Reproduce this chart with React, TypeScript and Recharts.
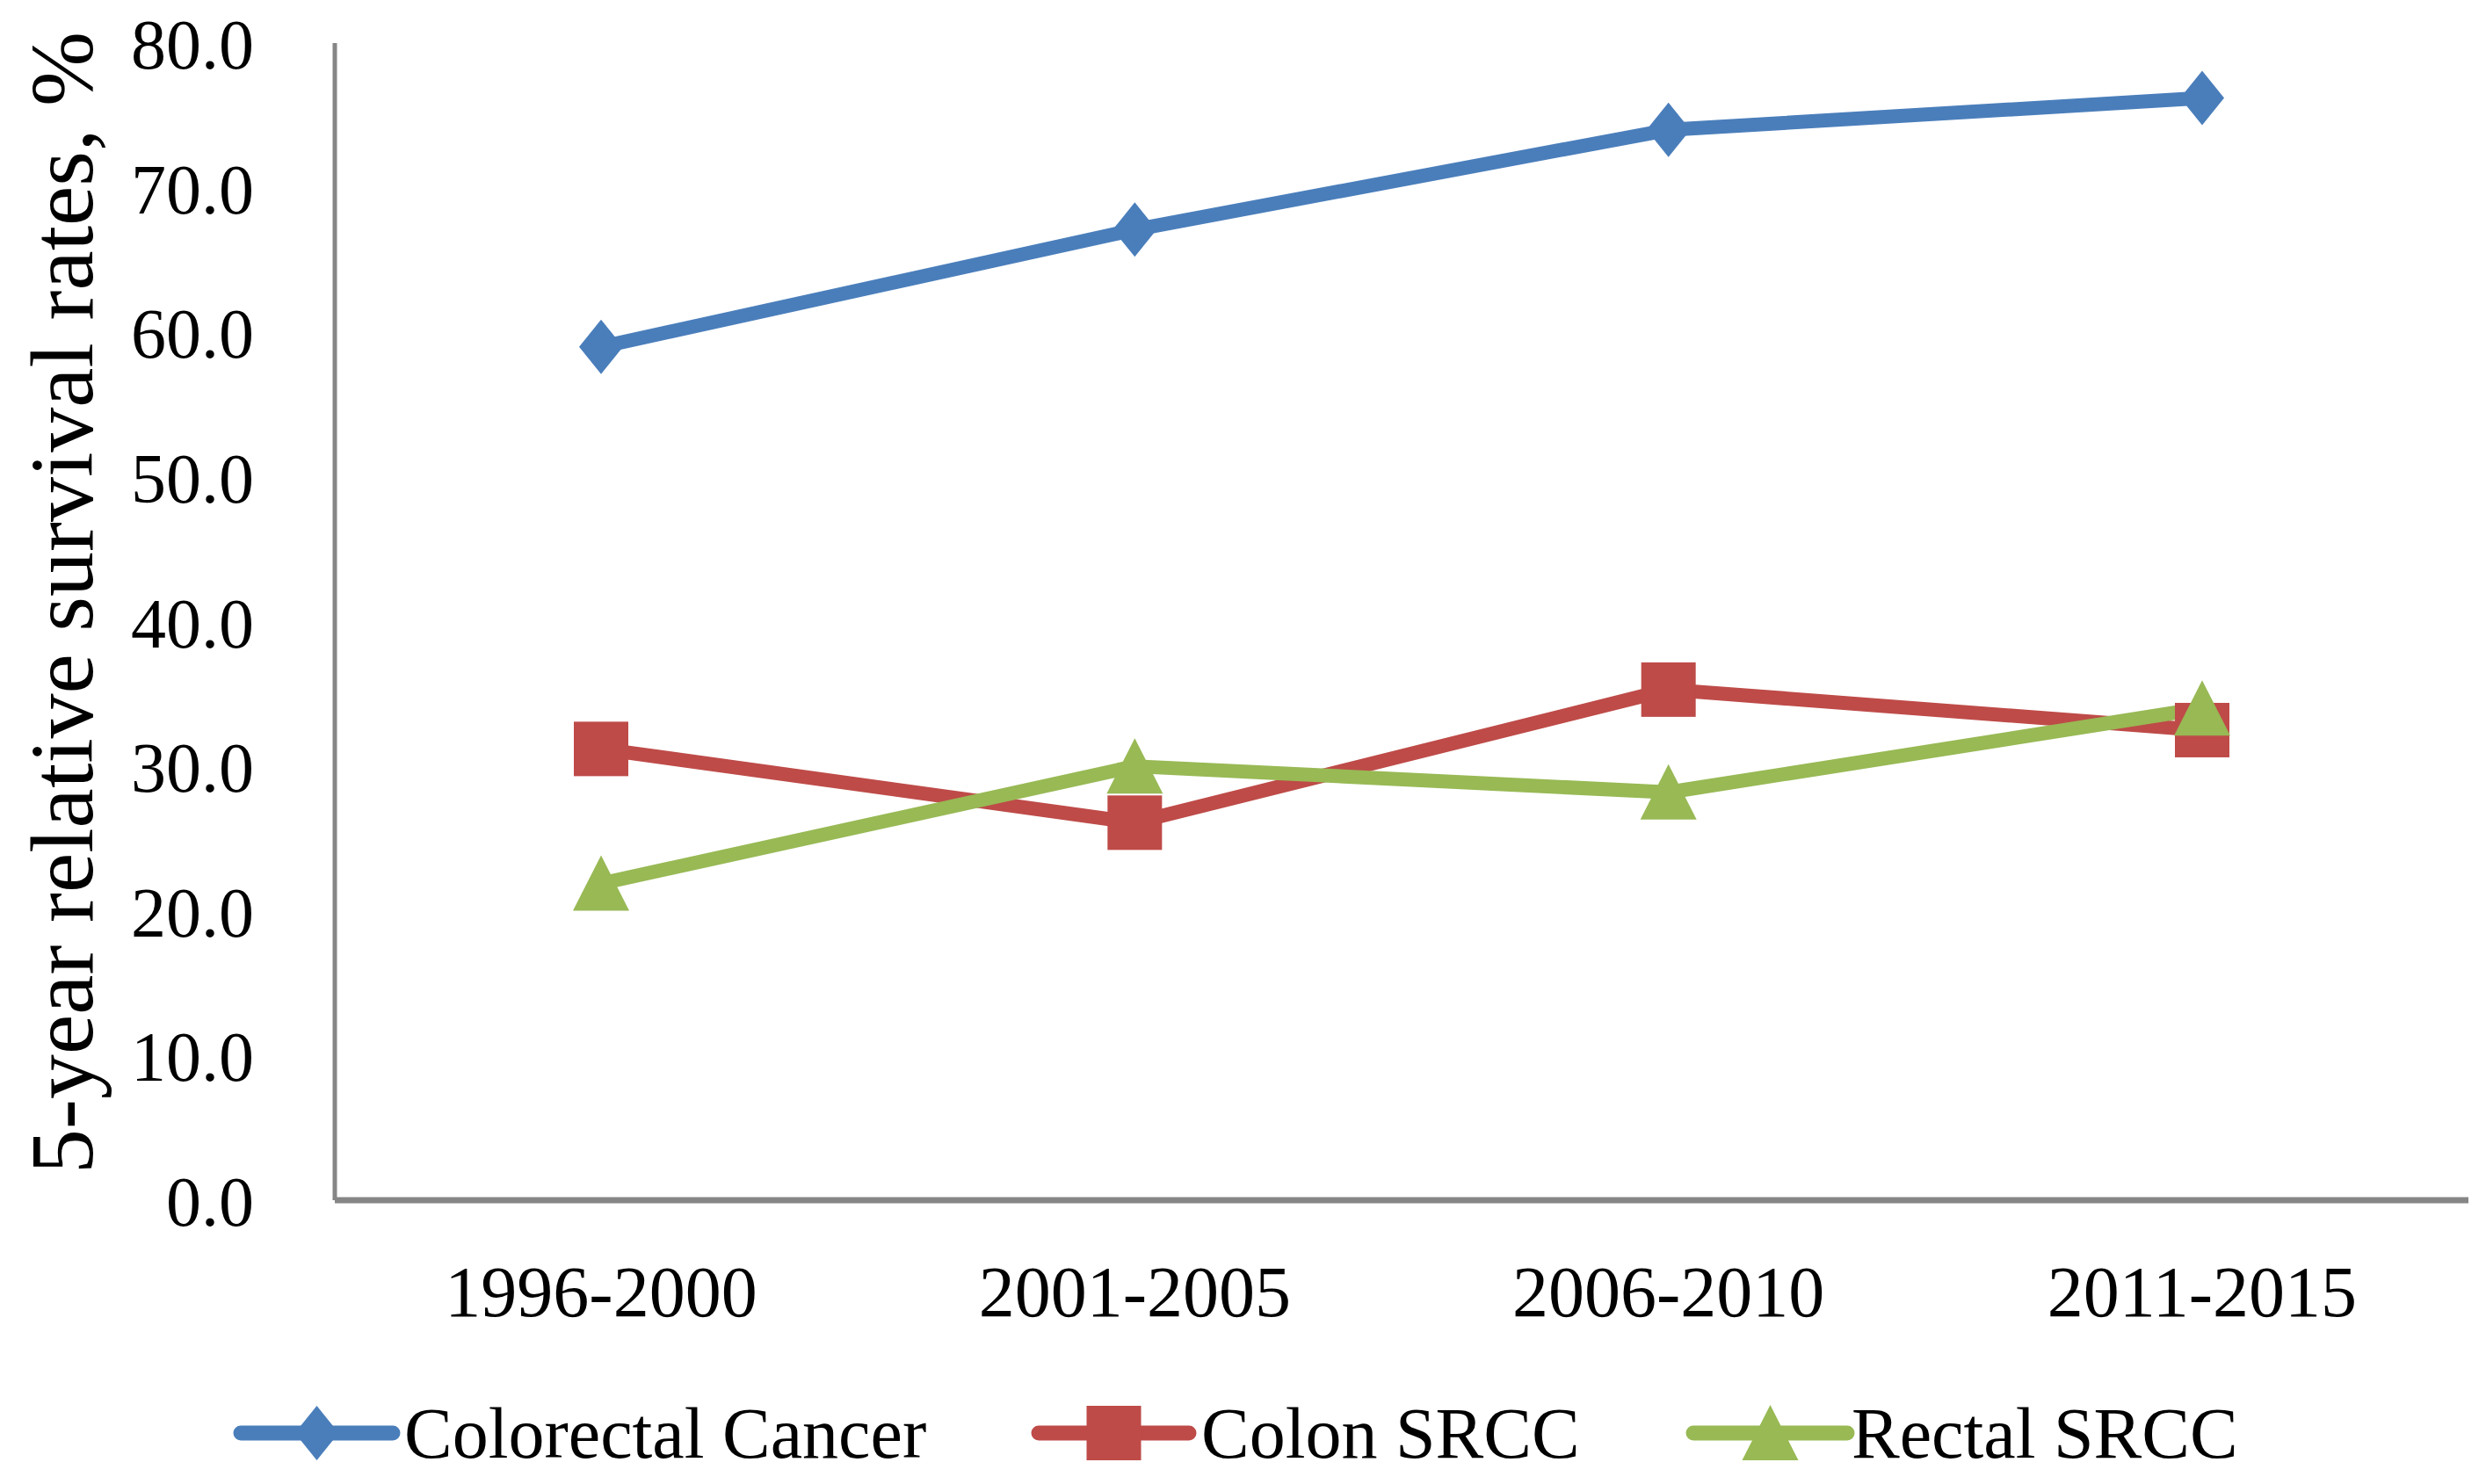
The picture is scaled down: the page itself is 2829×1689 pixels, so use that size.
import React from "react"
import { LineChart, Line, XAxis, YAxis, Legend } from "recharts"

const periods = ["1996-2000", "2001-2005", "2006-2010", "2011-2015"]
const colorectalCancer = [59.0, 67.1, 74.0, 76.2]
const colonSrcc = [31.2, 26.1, 35.3, 32.5]
const rectalSrcc = [21.9, 30.0, 28.2, 34.0]
const yTicks = [0, 10, 20, 30, 40, 50, 60, 70, 80]

const data = periods.map((p, i) => ({
  period: p,
  colorectal: colorectalCancer[i],
  colon: colonSrcc[i],
  rectal: rectalSrcc[i],
}))

const FONT = "'Liberation Serif', 'Times New Roman', serif"
const BLUE = "#4A7EBB"
const RED = "#BE4B48"
const GREEN = "#98B954"
const AXIS = "#868686"

const W = 2813
const H = 1673

function Diamond({ cx, cy, color }: any) {
  return <polygon points={`${cx},${cy - 31} ${cx + 25},${cy} ${cx},${cy + 31} ${cx - 25},${cy}`} fill={color} />
}
function Square({ cx, cy, color }: any) {
  return <rect x={cx - 31} y={cy - 31} width={62} height={62} fill={color} />
}
function Triangle({ cx, cy, color }: any) {
  return <polygon points={`${cx},${cy - 32} ${cx + 32},${cy + 31} ${cx - 32},${cy + 31}`} fill={color} />
}

const marker = (Shape: any, color: string) => (props: any) =>
  <Shape key={`${color}-${props.index}`} cx={props.cx} cy={props.cy} color={color} />

function XTick({ x, y, payload }: any) {
  return (
    <text x={x} y={y + 104} textAnchor="middle" dominantBaseline="central" fontFamily={FONT} fontSize={82} fill="#000">
      {payload.value}
    </text>
  )
}

function YTick({ x, y, payload }: any) {
  return (
    <text x={x} y={y + 2} textAnchor="end" dominantBaseline="central" fontFamily={FONT} fontSize={80} fill="#000">
      {Number(payload.value).toFixed(1)}
    </text>
  )
}

const legendItems = [
  { label: "Colorectal Cancer", color: BLUE, Shape: Diamond, x0: 266, x1: 439, text: 452 },
  { label: "Colon SRCC", color: RED, Shape: Square, x0: 1174, x1: 1345, text: 1359 },
  { label: "Rectal SRCC", color: GREEN, Shape: Triangle, x0: 1919, x1: 2094, text: 2099 },
]

function LegendContent() {
  return (
    <svg width={W} height={100} style={{ display: "block" }}>
      {legendItems.map((it) => {
        const mid = (it.x0 + it.x1) / 2
        return (
          <g key={it.label}>
            <line x1={it.x0} y1={50} x2={it.x1} y2={50} stroke={it.color} strokeWidth={17} strokeLinecap="round" />
            <it.Shape cx={mid} cy={50} color={it.color} />
            <text x={it.text} y={50} dominantBaseline="central" fontFamily={FONT} fontSize={82} fill="#000">
              {it.label}
            </text>
          </g>
        )
      })}
    </svg>
  )
}

export default function App() {
  return (
    <div style={{ width: W, height: H, background: "#fff" }}>
      <LineChart width={W} height={H} data={data} margin={{ top: 41, right: 12, left: 0, bottom: 0 }}>
        <XAxis
          dataKey="period"
          height={215}
          padding={{ left: 303, right: 303 }}
          axisLine={{ stroke: AXIS, strokeWidth: 7 }}
          tickLine={false}
          tickSize={0}
          tickMargin={0}
          tick={<XTick />}
        />
        <YAxis
          width={373}
          domain={[0, 80]}
          ticks={yTicks}
          interval={0}
          axisLine={{ stroke: AXIS, strokeWidth: 5 }}
          tickLine={false}
          tickSize={0}
          tickMargin={92}
          tick={<YTick />}
          label={() => (
            <text
              x={62}
              y={678}
              transform="rotate(-90 62 678)"
              textAnchor="middle"
              dominantBaseline="central"
              fontFamily={FONT}
              fontSize={102}
              fill="#000"
            >
              5-year relative survival rates, %
            </text>
          )}
        />
        <Legend
          verticalAlign="bottom"
          height={100}
          wrapperStyle={{ left: 0, width: W }}
          content={<LegendContent />}
        />
        <Line dataKey="colorectal" stroke={BLUE} strokeWidth={16} strokeLinejoin="round" dot={marker(Diamond, BLUE)} activeDot={false} isAnimationActive={false} />
        <Line dataKey="colon" stroke={RED} strokeWidth={16} strokeLinejoin="round" dot={marker(Square, RED)} activeDot={false} isAnimationActive={false} />
        <Line dataKey="rectal" stroke={GREEN} strokeWidth={16} strokeLinejoin="round" dot={marker(Triangle, GREEN)} activeDot={false} isAnimationActive={false} />
      </LineChart>
    </div>
  )
}
